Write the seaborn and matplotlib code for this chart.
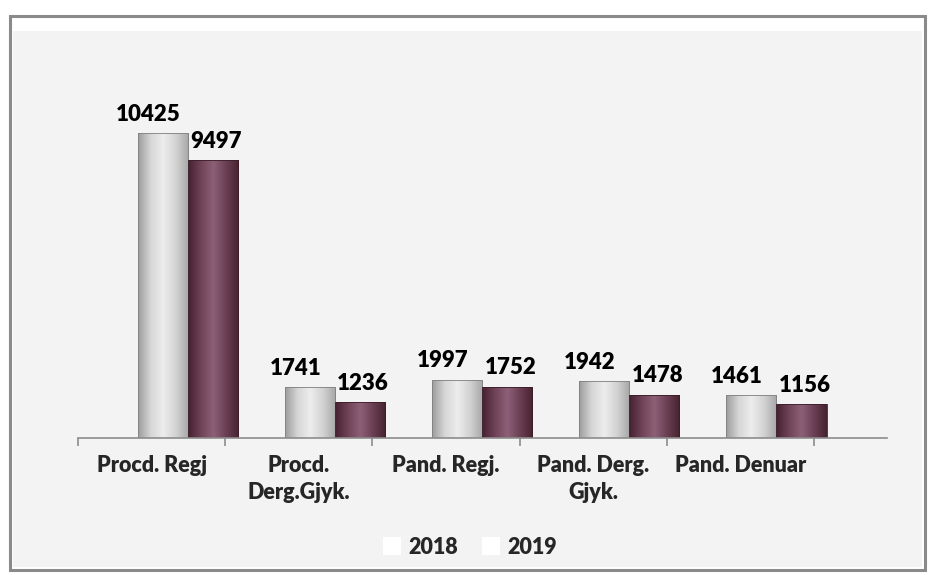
import matplotlib
matplotlib.use("Agg")
import matplotlib.pyplot as plt
import matplotlib.patches as mpatches
from matplotlib.colors import LinearSegmentedColormap
import numpy as np
import pandas as pd
import seaborn as sns

categories = ["Procd. Regj", "Procd.\nDerg.Gjyk.", "Pand. Regj.", "Pand. Derg.\nGjyk.", "Pand. Denuar"]
values_2018 = [10425, 1741, 1997, 1942, 1461]
values_2019 = [9497, 1236, 1752, 1478, 1156]
years = ["2018", "2019"]

df = pd.DataFrame({
    "cat": categories * 2,
    "val": values_2018 + values_2019,
    "year": [years[0]] * len(categories) + [years[1]] * len(categories),
})

sns.set_theme(style="white")
plt.rcParams["font.family"] = ["Lato", "DejaVu Sans"]
FW = "heavy"

W, H = 930, 575
fig = plt.figure(figsize=(W / 100, H / 100), dpi=100)
fig.patch.set_facecolor("white")

def fx(px):
    return px / W
def fy(py):
    return 1 - py / H

frame = mpatches.Rectangle((fx(10), fy(570)), fx(925) - fx(10), fy(16) - fy(570),
                           transform=fig.transFigure, facecolor="white",
                           edgecolor="#8a8a8a", lw=2.2, zorder=0)
fig.add_artist(frame)
inner = mpatches.Rectangle((fx(13), fy(567)), fx(922) - fx(13), fy(31) - fy(567),
                           transform=fig.transFigure, facecolor="#f3f3f3",
                           edgecolor="none", zorder=0)
fig.add_artist(inner)

left, right, bottom_px, top_px = 78, 887, 438, 40
ax = fig.add_axes([fx(left), fy(bottom_px), fx(right) - fx(left), fy(top_px) - fy(bottom_px)])
ax.set_facecolor("none")

palette = {"2018": "#cfcfcf", "2019": "#6e4358"}
sns.barplot(data=df, x="cat", y="val", hue="year", palette=palette, width=0.68,
            dodge=True, ax=ax, legend=False, saturation=1)

unit_px = (814 - 78) / 5.0
ax.set_xlim(-0.5, -0.5 + (right - left) / unit_px)
ax.set_ylim(0, (bottom_px - top_px) / (305 / 10425))

shift = 0.245
cmaps = {
    0: LinearSegmentedColormap.from_list("g", ["#9c9c9c", "#d6d6d6", "#ededed", "#d2d2d2", "#a6a6a6"]),
    1: LinearSegmentedColormap.from_list("m", ["#44202f", "#6f4257", "#8d6077", "#6a3f53", "#46222f"]),
}
grad = np.linspace(0, 1, 256).reshape(1, -1)
for hi, cont in enumerate(ax.containers):
    for bar in cont:
        bar.set_x(bar.get_x() + shift)
        x0, w, h = bar.get_x(), bar.get_width(), bar.get_height()
        bar.set_facecolor("none")
        bar.set_edgecolor("#7f7f7f" if hi == 0 else "#3a1c28")
        bar.set_linewidth(0.6)
        im = ax.imshow(grad, cmap=cmaps[hi], extent=(x0, x0 + w, 0, h),
                       aspect="auto", zorder=1.5, interpolation="bicubic")
        im.set_clip_path(bar)
        bar.set_zorder(2)
    offs = -14 if hi == 0 else 3
    labels = ax.bar_label(cont, labels=[f"{int(v)}" for v in cont.datavalues],
                          padding=6, fontsize=16, fontweight=FW, color="black")
    for t in labels:
        x, y = t.xyann
        t.xyann = (x + offs * 0.75, y)

for s in ["top", "right", "left"]:
    ax.spines[s].set_visible(False)
ax.spines["bottom"].set_color("#8c8c8c")
ax.spines["bottom"].set_linewidth(1.2)
ax.set_yticks([])
ax.set_xticks(np.arange(-0.5, 4.6, 1.0), minor=True)
ax.tick_params(axis="x", which="minor", length=6, color="#8c8c8c", width=1.2, bottom=True)
ax.tick_params(axis="x", which="major", length=0, pad=12)
ax.set_xticks(range(len(categories)))
ax.set_xticklabels(categories, fontsize=15.5, fontweight=FW, linespacing=1.4, va="top")
ax.set_xlabel("")
ax.set_ylabel("")

handles = [mpatches.Patch(facecolor="white", edgecolor="none", label=y) for y in years]
leg = fig.legend(handles=handles, loc="center", bbox_to_anchor=(fx(470), fy(547)), ncol=2,
                 frameon=False, prop={"size": 15.5, "weight": FW},
                 handlelength=0.85, handleheight=0.85, handletextpad=0.35, columnspacing=1.1)

fig.savefig("out.png", dpi=100, facecolor=fig.get_facecolor())
